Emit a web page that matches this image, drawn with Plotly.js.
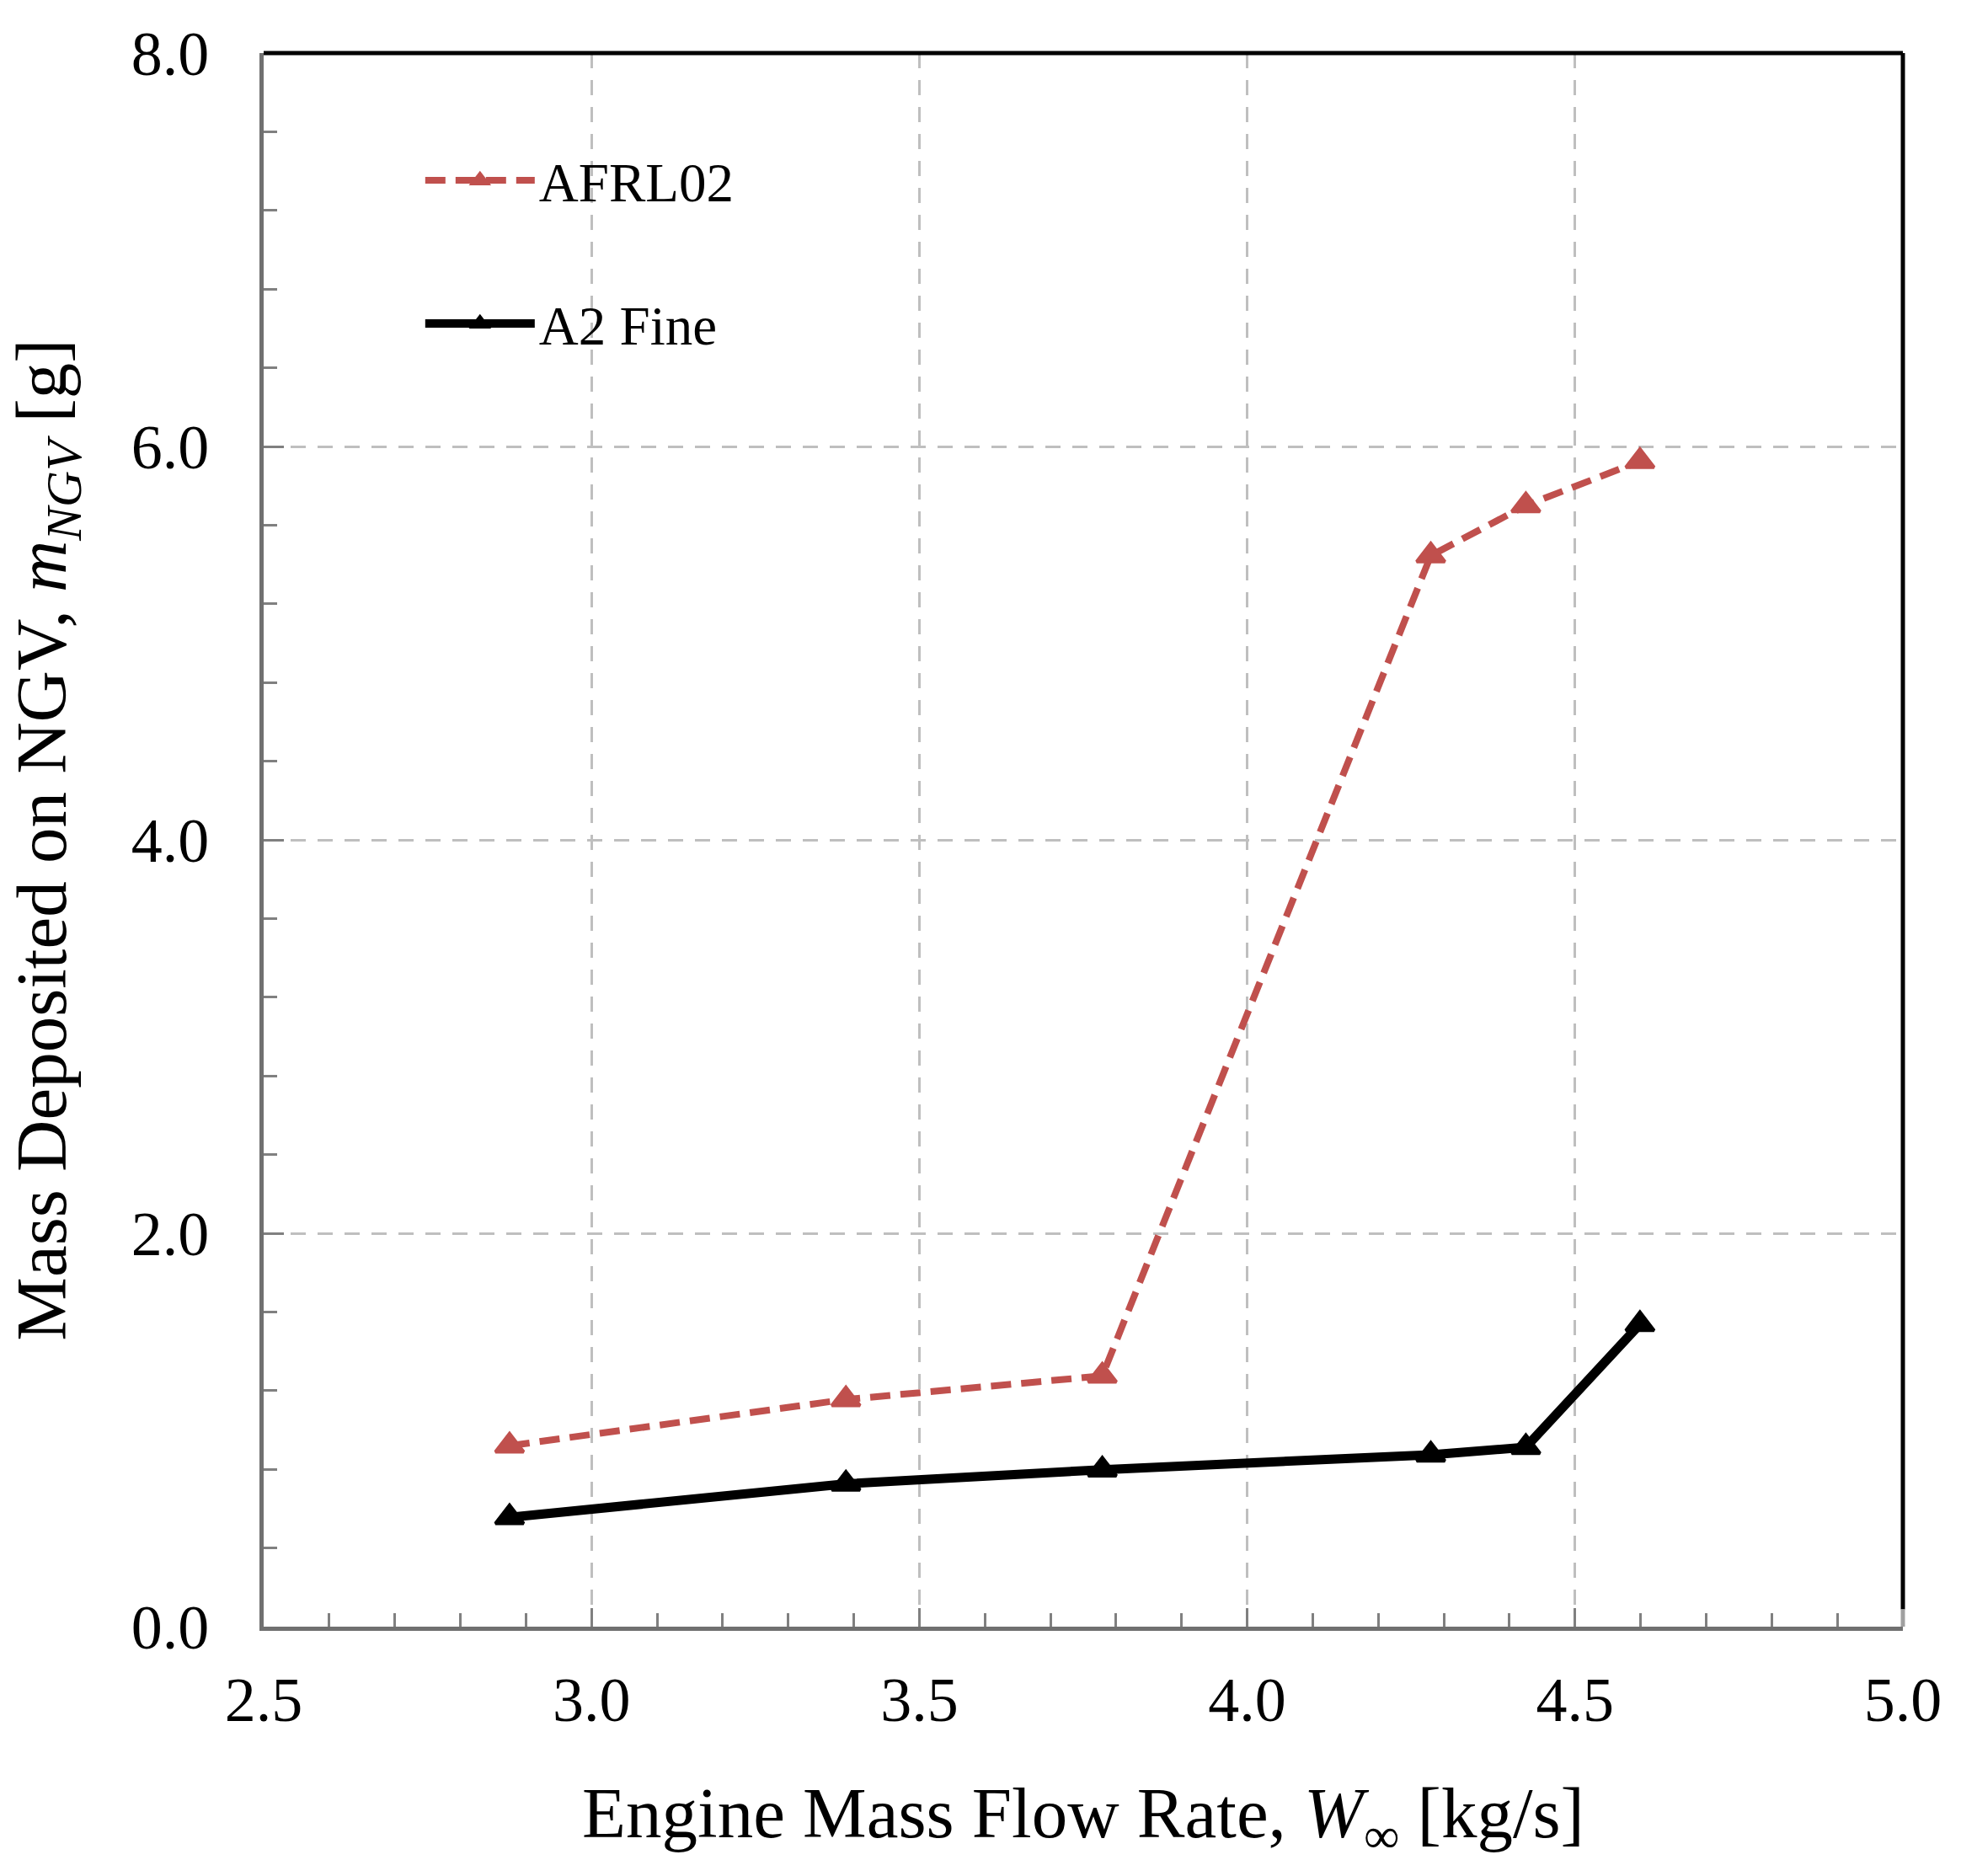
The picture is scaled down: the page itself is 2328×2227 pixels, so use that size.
<!DOCTYPE html>
<html>
<head>
<meta charset="utf-8">
<script src="https://cdn.plot.ly/plotly-3.0.1.min.js"></script>
<style>html,body{margin:0;padding:0;background:#fff;}#chart{width:2328px;height:2227px;}</style>
</head>
<body>
<div id="chart"></div>
<script>
// Data
const flowRate = [2.875, 3.388, 3.779, 4.280, 4.425, 4.599];
const afrl02 = [0.92, 1.155, 1.275, 5.445, 5.70, 5.925];
const a2fine = [0.556, 0.726, 0.798, 0.874, 0.912, 1.537];
const seriesNames = ['AFRL02', 'A2 Fine'];
const xTicks = [2.5, 3.0, 3.5, 4.0, 4.5, 5.0];
const yTicks = [0, 2, 4, 6, 8];

const FONT = '"Liberation Serif", "Times New Roman", serif';

const traces = [
  {
    x: flowRate, y: afrl02, name: seriesNames[0], type: 'scatter', mode: 'lines+markers',
    line: {color: '#c0504d', width: 8, dash: '24px,12px'},
    marker: {symbol: 'triangle-up', size: 29, color: '#c0504d', line: {color: '#c0504d', width: 4}},
    legend: 'legend', showlegend: true
  },
  {
    x: flowRate, y: a2fine, name: seriesNames[1], type: 'scatter', mode: 'lines+markers',
    line: {color: '#000000', width: 11},
    marker: {symbol: 'triangle-up', size: 29, color: '#000000', line: {color: '#000000', width: 4}},
    legend: 'legend2', showlegend: true
  }
];

const axisCommon = {
  showgrid: true, gridcolor: '#bfbfbf', gridwidth: 3, griddash: '18px,14px',
  zeroline: false, showline: true, linecolor: '#707070', linewidth: 5,
  ticks: 'inside', tickcolor: '#808080', tickwidth: 3,
  tickfont: {family: FONT, size: 74, color: '#000'},
  tickformat: '.1f', automargin: true
};

const legendCommon = {
  x: 0.096, xanchor: 'left', yanchor: 'middle',
  bgcolor: 'rgba(0,0,0,0)', borderwidth: 0, itemwidth: 130,
  font: {family: FONT, size: 65, color: '#000'}
};

const layout = {
  width: 2328, height: 2227,
  paper_bgcolor: '#ffffff', plot_bgcolor: '#ffffff',
  margin: {l: 313, r: 69, t: 63, b: 296, pad: 0},
  font: {family: FONT, color: '#000'},
  showlegend: true,
  xaxis: Object.assign({}, axisCommon, {
    range: [2.5, 5.0], tickvals: xTicks, ticklen: 22, ticklabelstandoff: 18,
    minor: {dtick: 0.1, ticks: 'inside', ticklen: 16, tickcolor: '#808080', tickwidth: 3, showgrid: false},
    title: {text: 'Engine Mass Flow Rate, <i>W</i><sub>∞</sub> [kg/s]', font: {family: FONT, size: 85, color: '#000'}, standoff: 65}
  }),
  yaxis: Object.assign({}, axisCommon, {
    range: [0, 8], tickvals: yTicks, ticklen: 24, ticklabelstandoff: 45,
    minor: {dtick: 0.4, ticks: 'inside', ticklen: 16, tickcolor: '#808080', tickwidth: 3, showgrid: false},
    title: {text: 'Mass Deposited on NGV, <i>m</i><sub><i>NGV</i></sub> [g]', font: {family: FONT, size: 85, color: '#000'}, standoff: 50}
  }),
  legend: Object.assign({}, legendCommon, {y: 0.919}),
  legend2: Object.assign({}, legendCommon, {y: 0.828}),
  shapes: [
    {type: 'line', xref: 'paper', yref: 'paper', x0: 0, x1: 1, y0: 1, y1: 1, line: {color: '#000', width: 5}},
    {type: 'line', xref: 'paper', yref: 'paper', x0: 1, x1: 1, y0: 0.011, y1: 1, line: {color: '#000', width: 5}},
    {type: 'line', xref: 'paper', yref: 'paper', x0: 1, x1: 1, y0: 0, y1: 0.011, line: {color: '#a0a0a0', width: 5}}
  ]
};

Plotly.newPlot('chart', traces, layout, {displayModeBar: false, staticPlot: true});
</script>
</body>
</html>
